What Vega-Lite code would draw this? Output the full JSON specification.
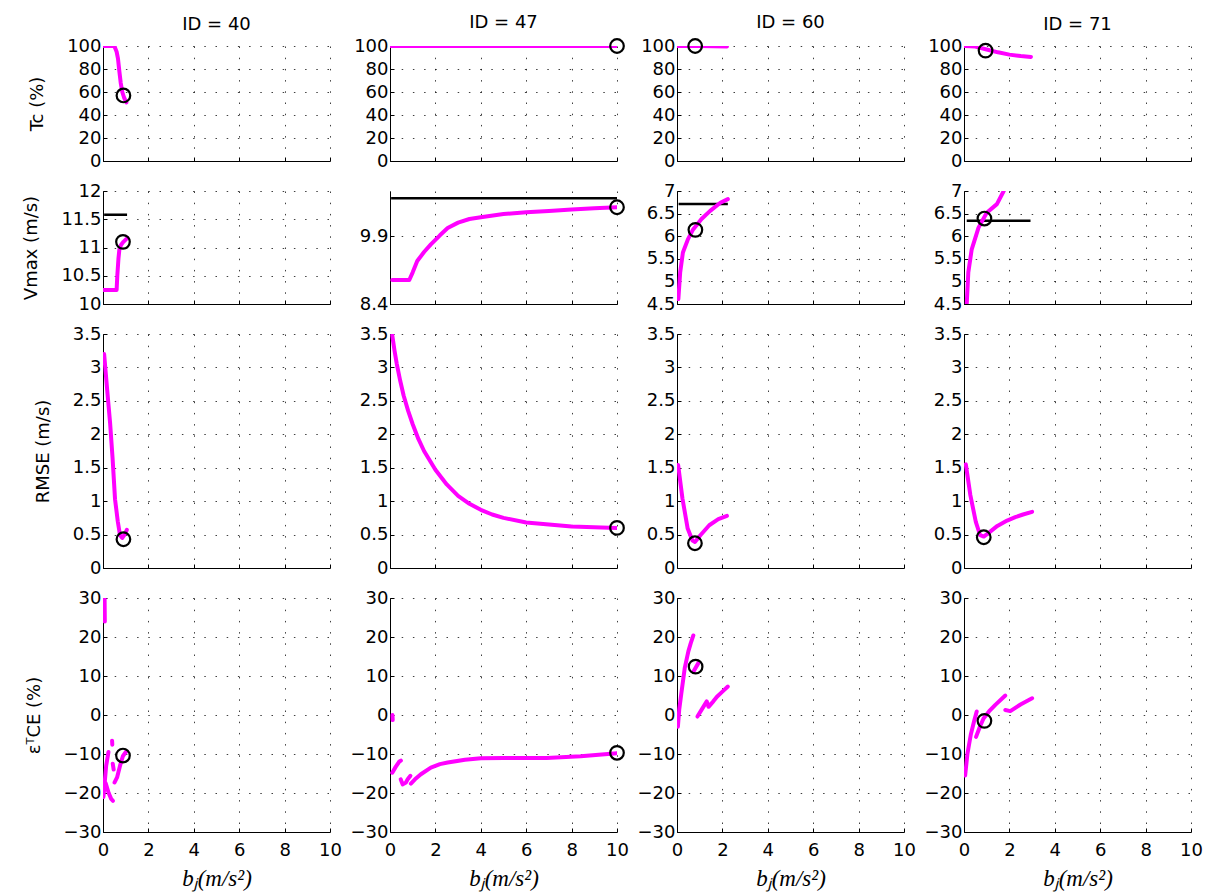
{
"$schema":"https://vega.github.io/schema/vega-lite/v6.json",
"background":"white",
"padding":{"left":22,"top":13,"right":5,"bottom":5},
"datasets":{"d":[
{"k":"c","id":40,"m":"T","s":1,"x":0.05,"y":100},{"k":"c","id":40,"m":"T","s":1,"x":0.5,"y":100},{"k":"c","id":40,"m":"T","s":1,"x":0.6,"y":95},{"k":"c","id":40,"m":"T","s":1,"x":0.66,"y":89},{"k":"c","id":40,"m":"T","s":1,"x":0.72,"y":78},{"k":"c","id":40,"m":"T","s":1,"x":0.78,"y":68},{"k":"c","id":40,"m":"T","s":1,"x":0.85,"y":60},{"k":"c","id":40,"m":"T","s":1,"x":0.93,"y":55},{"k":"c","id":40,"m":"T","s":1,"x":1.03,"y":51},
{"k":"c","id":47,"m":"T","s":1,"x":0.05,"y":100},{"k":"c","id":47,"m":"T","s":1,"x":10,"y":100},
{"k":"c","id":60,"m":"T","s":1,"x":0.05,"y":100},{"k":"c","id":60,"m":"T","s":1,"x":1,"y":100},{"k":"c","id":60,"m":"T","s":1,"x":2.2,"y":99.5},
{"k":"c","id":71,"m":"T","s":1,"x":0.05,"y":100},{"k":"c","id":71,"m":"T","s":1,"x":0.5,"y":99.5},{"k":"c","id":71,"m":"T","s":1,"x":1,"y":97},{"k":"c","id":71,"m":"T","s":1,"x":1.5,"y":94.5},{"k":"c","id":71,"m":"T","s":1,"x":2,"y":92.5},{"k":"c","id":71,"m":"T","s":1,"x":2.5,"y":91.3},{"k":"c","id":71,"m":"T","s":1,"x":2.95,"y":90.5},
{"k":"c","id":40,"m":"V","s":1,"x":0.05,"y":10.25},{"k":"c","id":40,"m":"V","s":1,"x":0.6,"y":10.25},{"k":"c","id":40,"m":"V","s":1,"x":0.63,"y":10.5},{"k":"c","id":40,"m":"V","s":1,"x":0.68,"y":10.8},{"k":"c","id":40,"m":"V","s":1,"x":0.72,"y":10.96},{"k":"c","id":40,"m":"V","s":1,"x":0.8,"y":11.05},{"k":"c","id":40,"m":"V","s":1,"x":0.9,"y":11.1},{"k":"c","id":40,"m":"V","s":1,"x":1.0,"y":11.14},{"k":"c","id":40,"m":"V","s":1,"x":1.08,"y":11.17},
{"k":"c","id":47,"m":"V","s":1,"x":0.1,"y":8.93},{"k":"c","id":47,"m":"V","s":1,"x":0.85,"y":8.93},{"k":"c","id":47,"m":"V","s":1,"x":1.0,"y":9.1},{"k":"c","id":47,"m":"V","s":1,"x":1.2,"y":9.35},{"k":"c","id":47,"m":"V","s":1,"x":1.5,"y":9.55},{"k":"c","id":47,"m":"V","s":1,"x":1.8,"y":9.72},{"k":"c","id":47,"m":"V","s":1,"x":2.2,"y":9.92},{"k":"c","id":47,"m":"V","s":1,"x":2.54,"y":10.08},{"k":"c","id":47,"m":"V","s":1,"x":3,"y":10.2},{"k":"c","id":47,"m":"V","s":1,"x":3.5,"y":10.28},{"k":"c","id":47,"m":"V","s":1,"x":4,"y":10.32},{"k":"c","id":47,"m":"V","s":1,"x":5,"y":10.39},{"k":"c","id":47,"m":"V","s":1,"x":6,"y":10.43},{"k":"c","id":47,"m":"V","s":1,"x":7,"y":10.46},{"k":"c","id":47,"m":"V","s":1,"x":8,"y":10.49},{"k":"c","id":47,"m":"V","s":1,"x":9,"y":10.52},{"k":"c","id":47,"m":"V","s":1,"x":10,"y":10.54},
{"k":"c","id":60,"m":"V","s":1,"x":0.06,"y":4.61},{"k":"c","id":60,"m":"V","s":1,"x":0.14,"y":5.2},{"k":"c","id":60,"m":"V","s":1,"x":0.26,"y":5.64},{"k":"c","id":60,"m":"V","s":1,"x":0.48,"y":5.93},{"k":"c","id":60,"m":"V","s":1,"x":0.71,"y":6.15},{"k":"c","id":60,"m":"V","s":1,"x":1.08,"y":6.38},{"k":"c","id":60,"m":"V","s":1,"x":1.46,"y":6.56},{"k":"c","id":60,"m":"V","s":1,"x":1.91,"y":6.74},{"k":"c","id":60,"m":"V","s":1,"x":2.24,"y":6.82},
{"k":"c","id":71,"m":"V","s":1,"x":0.12,"y":4.5},{"k":"c","id":71,"m":"V","s":1,"x":0.19,"y":5.2},{"k":"c","id":71,"m":"V","s":1,"x":0.34,"y":5.71},{"k":"c","id":71,"m":"V","s":1,"x":0.64,"y":6.19},{"k":"c","id":71,"m":"V","s":1,"x":1.0,"y":6.52},{"k":"c","id":71,"m":"V","s":1,"x":1.45,"y":6.71},{"k":"c","id":71,"m":"V","s":1,"x":1.75,"y":7.0},
{"k":"c","id":40,"m":"R","s":1,"x":0.05,"y":3.2},{"k":"c","id":40,"m":"R","s":1,"x":0.1,"y":3.0},{"k":"c","id":40,"m":"R","s":1,"x":0.2,"y":2.6},{"k":"c","id":40,"m":"R","s":1,"x":0.31,"y":2.18},{"k":"c","id":40,"m":"R","s":1,"x":0.42,"y":1.65},{"k":"c","id":40,"m":"R","s":1,"x":0.53,"y":1.03},{"k":"c","id":40,"m":"R","s":1,"x":0.65,"y":0.7},{"k":"c","id":40,"m":"R","s":1,"x":0.75,"y":0.49},{"k":"c","id":40,"m":"R","s":1,"x":0.85,"y":0.45},{"k":"c","id":40,"m":"R","s":1,"x":0.95,"y":0.5},{"k":"c","id":40,"m":"R","s":1,"x":1.05,"y":0.57},
{"k":"c","id":47,"m":"R","s":1,"x":0.1,"y":3.48},{"k":"c","id":47,"m":"R","s":1,"x":0.2,"y":3.25},{"k":"c","id":47,"m":"R","s":1,"x":0.3,"y":3.05},{"k":"c","id":47,"m":"R","s":1,"x":0.45,"y":2.8},{"k":"c","id":47,"m":"R","s":1,"x":0.6,"y":2.58},{"k":"c","id":47,"m":"R","s":1,"x":0.8,"y":2.35},{"k":"c","id":47,"m":"R","s":1,"x":1.0,"y":2.15},{"k":"c","id":47,"m":"R","s":1,"x":1.25,"y":1.93},{"k":"c","id":47,"m":"R","s":1,"x":1.5,"y":1.75},{"k":"c","id":47,"m":"R","s":1,"x":2,"y":1.47},{"k":"c","id":47,"m":"R","s":1,"x":2.5,"y":1.25},{"k":"c","id":47,"m":"R","s":1,"x":3,"y":1.08},{"k":"c","id":47,"m":"R","s":1,"x":3.5,"y":0.96},{"k":"c","id":47,"m":"R","s":1,"x":4,"y":0.87},{"k":"c","id":47,"m":"R","s":1,"x":4.5,"y":0.8},{"k":"c","id":47,"m":"R","s":1,"x":5,"y":0.75},{"k":"c","id":47,"m":"R","s":1,"x":6,"y":0.68},{"k":"c","id":47,"m":"R","s":1,"x":7,"y":0.65},{"k":"c","id":47,"m":"R","s":1,"x":8,"y":0.62},{"k":"c","id":47,"m":"R","s":1,"x":9,"y":0.61},{"k":"c","id":47,"m":"R","s":1,"x":10,"y":0.6},
{"k":"c","id":60,"m":"R","s":1,"x":0.05,"y":1.54},{"k":"c","id":60,"m":"R","s":1,"x":0.24,"y":1.04},{"k":"c","id":60,"m":"R","s":1,"x":0.47,"y":0.59},{"k":"c","id":60,"m":"R","s":1,"x":0.68,"y":0.41},{"k":"c","id":60,"m":"R","s":1,"x":0.79,"y":0.39},{"k":"c","id":60,"m":"R","s":1,"x":1.03,"y":0.49},{"k":"c","id":60,"m":"R","s":1,"x":1.42,"y":0.64},{"k":"c","id":60,"m":"R","s":1,"x":1.82,"y":0.73},{"k":"c","id":60,"m":"R","s":1,"x":2.2,"y":0.78},
{"k":"c","id":71,"m":"R","s":1,"x":0.08,"y":1.55},{"k":"c","id":71,"m":"R","s":1,"x":0.28,"y":1.09},{"k":"c","id":71,"m":"R","s":1,"x":0.52,"y":0.69},{"k":"c","id":71,"m":"R","s":1,"x":0.71,"y":0.49},{"k":"c","id":71,"m":"R","s":1,"x":0.87,"y":0.47},{"k":"c","id":71,"m":"R","s":1,"x":1.1,"y":0.53},{"k":"c","id":71,"m":"R","s":1,"x":1.47,"y":0.63},{"k":"c","id":71,"m":"R","s":1,"x":1.9,"y":0.71},{"k":"c","id":71,"m":"R","s":1,"x":2.26,"y":0.76},{"k":"c","id":71,"m":"R","s":1,"x":2.6,"y":0.8},{"k":"c","id":71,"m":"R","s":1,"x":3.0,"y":0.84},
{"k":"c","id":40,"m":"E","s":1,"x":0.07,"y":30},{"k":"c","id":40,"m":"E","s":1,"x":0.08,"y":24},
{"k":"c","id":40,"m":"E","s":2,"x":0.02,"y":-21},{"k":"c","id":40,"m":"E","s":2,"x":0.08,"y":-17},{"k":"c","id":40,"m":"E","s":2,"x":0.14,"y":-13},{"k":"c","id":40,"m":"E","s":2,"x":0.24,"y":-9.5},
{"k":"c","id":40,"m":"E","s":3,"x":0.12,"y":-17.5},{"k":"c","id":40,"m":"E","s":3,"x":0.25,"y":-20},{"k":"c","id":40,"m":"E","s":3,"x":0.36,"y":-21.5},{"k":"c","id":40,"m":"E","s":3,"x":0.44,"y":-22},
{"k":"c","id":40,"m":"E","s":4,"x":0.4,"y":-6.6},{"k":"c","id":40,"m":"E","s":4,"x":0.41,"y":-7.6},
{"k":"c","id":40,"m":"E","s":5,"x":0.43,"y":-12.5},{"k":"c","id":40,"m":"E","s":5,"x":0.47,"y":-14},
{"k":"c","id":40,"m":"E","s":6,"x":0.51,"y":-17.3},{"k":"c","id":40,"m":"E","s":6,"x":0.62,"y":-16},{"k":"c","id":40,"m":"E","s":6,"x":0.75,"y":-13},{"k":"c","id":40,"m":"E","s":6,"x":0.88,"y":-10.5},{"k":"c","id":40,"m":"E","s":6,"x":1.03,"y":-9.3},
{"k":"c","id":47,"m":"E","s":1,"x":0.11,"y":0},{"k":"c","id":47,"m":"E","s":1,"x":0.12,"y":-1.3},
{"k":"c","id":47,"m":"E","s":2,"x":0.1,"y":-14.8},{"k":"c","id":47,"m":"E","s":2,"x":0.25,"y":-13.3},{"k":"c","id":47,"m":"E","s":2,"x":0.4,"y":-12},{"k":"c","id":47,"m":"E","s":2,"x":0.48,"y":-11.7},
{"k":"c","id":47,"m":"E","s":3,"x":0.47,"y":-16.5},{"k":"c","id":47,"m":"E","s":3,"x":0.56,"y":-17.8},{"k":"c","id":47,"m":"E","s":3,"x":0.7,"y":-17.3},{"k":"c","id":47,"m":"E","s":3,"x":0.78,"y":-16.5},{"k":"c","id":47,"m":"E","s":3,"x":0.9,"y":-15.6},
{"k":"c","id":47,"m":"E","s":4,"x":0.92,"y":-17.6},{"k":"c","id":47,"m":"E","s":4,"x":1.1,"y":-16.5},{"k":"c","id":47,"m":"E","s":4,"x":1.36,"y":-15.2},{"k":"c","id":47,"m":"E","s":4,"x":1.8,"y":-13.5},{"k":"c","id":47,"m":"E","s":4,"x":2.2,"y":-12.6},{"k":"c","id":47,"m":"E","s":4,"x":2.54,"y":-12.2},{"k":"c","id":47,"m":"E","s":4,"x":3.3,"y":-11.5},{"k":"c","id":47,"m":"E","s":4,"x":4,"y":-11.1},{"k":"c","id":47,"m":"E","s":4,"x":5,"y":-11},{"k":"c","id":47,"m":"E","s":4,"x":6,"y":-11},{"k":"c","id":47,"m":"E","s":4,"x":6.9,"y":-11},{"k":"c","id":47,"m":"E","s":4,"x":8.4,"y":-10.6},{"k":"c","id":47,"m":"E","s":4,"x":9.2,"y":-10.2},{"k":"c","id":47,"m":"E","s":4,"x":10,"y":-9.8},
{"k":"c","id":60,"m":"E","s":1,"x":0.04,"y":-3},{"k":"c","id":60,"m":"E","s":1,"x":0.1,"y":1.5},{"k":"c","id":60,"m":"E","s":1,"x":0.19,"y":5.5},{"k":"c","id":60,"m":"E","s":1,"x":0.34,"y":12},{"k":"c","id":60,"m":"E","s":1,"x":0.5,"y":16.3},{"k":"c","id":60,"m":"E","s":1,"x":0.6,"y":18.3},{"k":"c","id":60,"m":"E","s":1,"x":0.72,"y":20.4},
{"k":"c","id":60,"m":"E","s":2,"x":0.72,"y":11.1},{"k":"c","id":60,"m":"E","s":2,"x":0.94,"y":13.3},
{"k":"c","id":60,"m":"E","s":3,"x":0.9,"y":-0.4},{"k":"c","id":60,"m":"E","s":3,"x":1.1,"y":1.5},{"k":"c","id":60,"m":"E","s":3,"x":1.31,"y":3.5},{"k":"c","id":60,"m":"E","s":3,"x":1.39,"y":2.1},{"k":"c","id":60,"m":"E","s":3,"x":1.6,"y":3.5},{"k":"c","id":60,"m":"E","s":3,"x":1.76,"y":4.7},{"k":"c","id":60,"m":"E","s":3,"x":2.0,"y":6},{"k":"c","id":60,"m":"E","s":3,"x":2.24,"y":7.3},
{"k":"c","id":71,"m":"E","s":1,"x":0.05,"y":-15.5},{"k":"c","id":71,"m":"E","s":1,"x":0.15,"y":-10},{"k":"c","id":71,"m":"E","s":1,"x":0.3,"y":-5},{"k":"c","id":71,"m":"E","s":1,"x":0.45,"y":-1.5},{"k":"c","id":71,"m":"E","s":1,"x":0.56,"y":0.9},
{"k":"c","id":71,"m":"E","s":2,"x":0.53,"y":-5.6},{"k":"c","id":71,"m":"E","s":2,"x":0.7,"y":-3},{"k":"c","id":71,"m":"E","s":2,"x":0.86,"y":-0.9},{"k":"c","id":71,"m":"E","s":2,"x":1.1,"y":0.9},{"k":"c","id":71,"m":"E","s":2,"x":1.38,"y":2.6},{"k":"c","id":71,"m":"E","s":2,"x":1.82,"y":5},
{"k":"c","id":71,"m":"E","s":3,"x":1.82,"y":1.3},{"k":"c","id":71,"m":"E","s":3,"x":2.04,"y":1.0},{"k":"c","id":71,"m":"E","s":3,"x":2.49,"y":2.7},{"k":"c","id":71,"m":"E","s":3,"x":3.0,"y":4.3},
{"k":"o","id":40,"m":"T","x":0.9,"y":57},{"k":"o","id":47,"m":"T","x":10,"y":100},{"k":"o","id":60,"m":"T","x":0.8,"y":100},{"k":"o","id":71,"m":"T","x":0.95,"y":96},
{"k":"o","id":40,"m":"V","x":0.88,"y":11.1},{"k":"o","id":47,"m":"V","x":10,"y":10.54},{"k":"o","id":60,"m":"V","x":0.81,"y":6.14},{"k":"o","id":71,"m":"V","x":0.9,"y":6.39},
{"k":"o","id":40,"m":"R","x":0.9,"y":0.43},{"k":"o","id":47,"m":"R","x":10,"y":0.6},{"k":"o","id":60,"m":"R","x":0.79,"y":0.37},{"k":"o","id":71,"m":"R","x":0.87,"y":0.46},
{"k":"o","id":40,"m":"E","x":0.88,"y":-10.4},{"k":"o","id":47,"m":"E","x":10,"y":-9.7},{"k":"o","id":60,"m":"E","x":0.82,"y":12.4},{"k":"o","id":71,"m":"E","x":0.9,"y":-1.5},
{"k":"r","id":40,"m":"V","x":0.05,"y":11.58},{"k":"r","id":40,"m":"V","x":1.06,"y":11.58},
{"k":"r","id":47,"m":"V","x":0.05,"y":10.74},{"k":"r","id":47,"m":"V","x":10,"y":10.74},
{"k":"r","id":60,"m":"V","x":0.07,"y":6.71},{"k":"r","id":60,"m":"V","x":2.24,"y":6.71},
{"k":"r","id":71,"m":"V","x":0.12,"y":6.34},{"k":"r","id":71,"m":"V","x":2.93,"y":6.34}
]},
"columns":4,
"bounds":"flush",
"align":"each",
"spacing":{"row":30,"column":60},
"resolve":{"scale":{"x":"independent","y":"independent"},"axis":{"x":"independent","y":"independent"}},
"concat":[
{"width":227,"height":115,"title":"ID = 40","encoding":{"x":{"field":"x","type":"quantitative","scale":{"domain":[0,10],"nice":false},"axis":{"values":[0,2,4,6,8,10],"labels":false,"title":null}},"y":{"field":"y","type":"quantitative","scale":{"domain":[0,100],"nice":false,"zero":false},"axis":{"values":[0,20,40,60,80,100],"format":".1~f","title":"Tc (%)"}}},
"layer":[{"data":{"name":"d"},"transform":[{"filter":"datum.k=='c'&&datum.id==40&&datum.m=='T'"}],"mark":{"type":"line","color":"#ff00ff","strokeWidth":4,"strokeCap":"round","strokeJoin":"round","clip":true},"encoding":{"detail":{"field":"s"}}},
{"data":{"name":"d"},"transform":[{"filter":"datum.k=='o'&&datum.id==40&&datum.m=='T'"}],"mark":{"type":"point","shape":"circle","color":"#000","size":185,"strokeWidth":2.2,"opacity":1}}]},
{"width":227,"height":115,"title":"ID = 47","encoding":{"x":{"field":"x","type":"quantitative","scale":{"domain":[0,10],"nice":false},"axis":{"values":[0,2,4,6,8,10],"labels":false,"title":null}},"y":{"field":"y","type":"quantitative","scale":{"domain":[0,100],"nice":false,"zero":false},"axis":{"values":[0,20,40,60,80,100],"format":".1~f","title":null}}},
"layer":[{"data":{"name":"d"},"transform":[{"filter":"datum.k=='c'&&datum.id==47&&datum.m=='T'"}],"mark":{"type":"line","color":"#ff00ff","strokeWidth":4,"strokeCap":"round","strokeJoin":"round","clip":true},"encoding":{"detail":{"field":"s"}}},
{"data":{"name":"d"},"transform":[{"filter":"datum.k=='o'&&datum.id==47&&datum.m=='T'"}],"mark":{"type":"point","shape":"circle","color":"#000","size":185,"strokeWidth":2.2,"opacity":1}}]},
{"width":227,"height":115,"title":"ID = 60","encoding":{"x":{"field":"x","type":"quantitative","scale":{"domain":[0,10],"nice":false},"axis":{"values":[0,2,4,6,8,10],"labels":false,"title":null}},"y":{"field":"y","type":"quantitative","scale":{"domain":[0,100],"nice":false,"zero":false},"axis":{"values":[0,20,40,60,80,100],"format":".1~f","title":null}}},
"layer":[{"data":{"name":"d"},"transform":[{"filter":"datum.k=='c'&&datum.id==60&&datum.m=='T'"}],"mark":{"type":"line","color":"#ff00ff","strokeWidth":4,"strokeCap":"round","strokeJoin":"round","clip":true},"encoding":{"detail":{"field":"s"}}},
{"data":{"name":"d"},"transform":[{"filter":"datum.k=='o'&&datum.id==60&&datum.m=='T'"}],"mark":{"type":"point","shape":"circle","color":"#000","size":185,"strokeWidth":2.2,"opacity":1}}]},
{"width":227,"height":115,"title":"ID = 71","encoding":{"x":{"field":"x","type":"quantitative","scale":{"domain":[0,10],"nice":false},"axis":{"values":[0,2,4,6,8,10],"labels":false,"title":null}},"y":{"field":"y","type":"quantitative","scale":{"domain":[0,100],"nice":false,"zero":false},"axis":{"values":[0,20,40,60,80,100],"format":".1~f","title":null}}},
"layer":[{"data":{"name":"d"},"transform":[{"filter":"datum.k=='c'&&datum.id==71&&datum.m=='T'"}],"mark":{"type":"line","color":"#ff00ff","strokeWidth":4,"strokeCap":"round","strokeJoin":"round","clip":true},"encoding":{"detail":{"field":"s"}}},
{"data":{"name":"d"},"transform":[{"filter":"datum.k=='o'&&datum.id==71&&datum.m=='T'"}],"mark":{"type":"point","shape":"circle","color":"#000","size":185,"strokeWidth":2.2,"opacity":1}}]},

{"width":227,"height":113,"encoding":{"x":{"field":"x","type":"quantitative","scale":{"domain":[0,10],"nice":false},"axis":{"values":[0,2,4,6,8,10],"labels":false,"title":null}},"y":{"field":"y","type":"quantitative","scale":{"domain":[10,12],"nice":false,"zero":false},"axis":{"values":[10,10.5,11,11.5,12],"format":".1~f","title":"Vmax (m/s)"}}},
"layer":[{"data":{"name":"d"},"transform":[{"filter":"datum.k=='r'&&datum.id==40&&datum.m=='V'"}],"mark":{"type":"line","color":"#000","strokeWidth":2.5,"clip":true},"encoding":{}},
{"data":{"name":"d"},"transform":[{"filter":"datum.k=='c'&&datum.id==40&&datum.m=='V'"}],"mark":{"type":"line","color":"#ff00ff","strokeWidth":4,"strokeCap":"round","strokeJoin":"round","clip":true},"encoding":{"detail":{"field":"s"}}},
{"data":{"name":"d"},"transform":[{"filter":"datum.k=='o'&&datum.id==40&&datum.m=='V'"}],"mark":{"type":"point","shape":"circle","color":"#000","size":185,"strokeWidth":2.2,"opacity":1}}]},
{"width":227,"height":113,"encoding":{"x":{"field":"x","type":"quantitative","scale":{"domain":[0,10],"nice":false},"axis":{"values":[0,2,4,6,8,10],"labels":false,"title":null}},"y":{"field":"y","type":"quantitative","scale":{"domain":[8.4,10.9],"nice":false,"zero":false},"axis":{"values":[8.4,9.9],"format":".1f","title":null}}},
"layer":[{"data":{"name":"d"},"transform":[{"filter":"datum.k=='r'&&datum.id==47&&datum.m=='V'"}],"mark":{"type":"line","color":"#000","strokeWidth":2.5,"clip":true},"encoding":{}},
{"data":{"name":"d"},"transform":[{"filter":"datum.k=='c'&&datum.id==47&&datum.m=='V'"}],"mark":{"type":"line","color":"#ff00ff","strokeWidth":4,"strokeCap":"round","strokeJoin":"round","clip":true},"encoding":{"detail":{"field":"s"}}},
{"data":{"name":"d"},"transform":[{"filter":"datum.k=='o'&&datum.id==47&&datum.m=='V'"}],"mark":{"type":"point","shape":"circle","color":"#000","size":185,"strokeWidth":2.2,"opacity":1}}]},
{"width":227,"height":113,"encoding":{"x":{"field":"x","type":"quantitative","scale":{"domain":[0,10],"nice":false},"axis":{"values":[0,2,4,6,8,10],"labels":false,"title":null}},"y":{"field":"y","type":"quantitative","scale":{"domain":[4.5,7],"nice":false,"zero":false},"axis":{"values":[4.5,5,5.5,6,6.5,7],"format":".1~f","title":null}}},
"layer":[{"data":{"name":"d"},"transform":[{"filter":"datum.k=='r'&&datum.id==60&&datum.m=='V'"}],"mark":{"type":"line","color":"#000","strokeWidth":2.5,"clip":true},"encoding":{}},
{"data":{"name":"d"},"transform":[{"filter":"datum.k=='c'&&datum.id==60&&datum.m=='V'"}],"mark":{"type":"line","color":"#ff00ff","strokeWidth":4,"strokeCap":"round","strokeJoin":"round","clip":true},"encoding":{"detail":{"field":"s"}}},
{"data":{"name":"d"},"transform":[{"filter":"datum.k=='o'&&datum.id==60&&datum.m=='V'"}],"mark":{"type":"point","shape":"circle","color":"#000","size":185,"strokeWidth":2.2,"opacity":1}}]},
{"width":227,"height":113,"encoding":{"x":{"field":"x","type":"quantitative","scale":{"domain":[0,10],"nice":false},"axis":{"values":[0,2,4,6,8,10],"labels":false,"title":null}},"y":{"field":"y","type":"quantitative","scale":{"domain":[4.5,7],"nice":false,"zero":false},"axis":{"values":[4.5,5,5.5,6,6.5,7],"format":".1~f","title":null}}},
"layer":[{"data":{"name":"d"},"transform":[{"filter":"datum.k=='r'&&datum.id==71&&datum.m=='V'"}],"mark":{"type":"line","color":"#000","strokeWidth":2.5,"clip":true},"encoding":{}},
{"data":{"name":"d"},"transform":[{"filter":"datum.k=='c'&&datum.id==71&&datum.m=='V'"}],"mark":{"type":"line","color":"#ff00ff","strokeWidth":4,"strokeCap":"round","strokeJoin":"round","clip":true},"encoding":{"detail":{"field":"s"}}},
{"data":{"name":"d"},"transform":[{"filter":"datum.k=='o'&&datum.id==71&&datum.m=='V'"}],"mark":{"type":"point","shape":"circle","color":"#000","size":185,"strokeWidth":2.2,"opacity":1}}]},

{"width":227,"height":234,"encoding":{"x":{"field":"x","type":"quantitative","scale":{"domain":[0,10],"nice":false},"axis":{"values":[0,2,4,6,8,10],"labels":false,"title":null}},"y":{"field":"y","type":"quantitative","scale":{"domain":[0,3.5],"nice":false,"zero":false},"axis":{"values":[0,0.5,1,1.5,2,2.5,3,3.5],"format":".1~f","title":"RMSE (m/s)"}}},
"layer":[{"data":{"name":"d"},"transform":[{"filter":"datum.k=='c'&&datum.id==40&&datum.m=='R'"}],"mark":{"type":"line","color":"#ff00ff","strokeWidth":4,"strokeCap":"round","strokeJoin":"round","clip":true},"encoding":{"detail":{"field":"s"}}},
{"data":{"name":"d"},"transform":[{"filter":"datum.k=='o'&&datum.id==40&&datum.m=='R'"}],"mark":{"type":"point","shape":"circle","color":"#000","size":185,"strokeWidth":2.2,"opacity":1}}]},
{"width":227,"height":234,"encoding":{"x":{"field":"x","type":"quantitative","scale":{"domain":[0,10],"nice":false},"axis":{"values":[0,2,4,6,8,10],"labels":false,"title":null}},"y":{"field":"y","type":"quantitative","scale":{"domain":[0,3.5],"nice":false,"zero":false},"axis":{"values":[0,0.5,1,1.5,2,2.5,3,3.5],"format":".1~f","title":null}}},
"layer":[{"data":{"name":"d"},"transform":[{"filter":"datum.k=='c'&&datum.id==47&&datum.m=='R'"}],"mark":{"type":"line","color":"#ff00ff","strokeWidth":4,"strokeCap":"round","strokeJoin":"round","clip":true},"encoding":{"detail":{"field":"s"}}},
{"data":{"name":"d"},"transform":[{"filter":"datum.k=='o'&&datum.id==47&&datum.m=='R'"}],"mark":{"type":"point","shape":"circle","color":"#000","size":185,"strokeWidth":2.2,"opacity":1}}]},
{"width":227,"height":234,"encoding":{"x":{"field":"x","type":"quantitative","scale":{"domain":[0,10],"nice":false},"axis":{"values":[0,2,4,6,8,10],"labels":false,"title":null}},"y":{"field":"y","type":"quantitative","scale":{"domain":[0,3.5],"nice":false,"zero":false},"axis":{"values":[0,0.5,1,1.5,2,2.5,3,3.5],"format":".1~f","title":null}}},
"layer":[{"data":{"name":"d"},"transform":[{"filter":"datum.k=='c'&&datum.id==60&&datum.m=='R'"}],"mark":{"type":"line","color":"#ff00ff","strokeWidth":4,"strokeCap":"round","strokeJoin":"round","clip":true},"encoding":{"detail":{"field":"s"}}},
{"data":{"name":"d"},"transform":[{"filter":"datum.k=='o'&&datum.id==60&&datum.m=='R'"}],"mark":{"type":"point","shape":"circle","color":"#000","size":185,"strokeWidth":2.2,"opacity":1}}]},
{"width":227,"height":234,"encoding":{"x":{"field":"x","type":"quantitative","scale":{"domain":[0,10],"nice":false},"axis":{"values":[0,2,4,6,8,10],"labels":false,"title":null}},"y":{"field":"y","type":"quantitative","scale":{"domain":[0,3.5],"nice":false,"zero":false},"axis":{"values":[0,0.5,1,1.5,2,2.5,3,3.5],"format":".1~f","title":null}}},
"layer":[{"data":{"name":"d"},"transform":[{"filter":"datum.k=='c'&&datum.id==71&&datum.m=='R'"}],"mark":{"type":"line","color":"#ff00ff","strokeWidth":4,"strokeCap":"round","strokeJoin":"round","clip":true},"encoding":{"detail":{"field":"s"}}},
{"data":{"name":"d"},"transform":[{"filter":"datum.k=='o'&&datum.id==71&&datum.m=='R'"}],"mark":{"type":"point","shape":"circle","color":"#000","size":185,"strokeWidth":2.2,"opacity":1}}]},

{"width":227,"height":234,"encoding":{"x":{"field":"x","type":"quantitative","scale":{"domain":[0,10],"nice":false},"axis":{"values":[0,2,4,6,8,10],"title":"bⱼ(m/s²)"}},"y":{"field":"y","type":"quantitative","scale":{"domain":[-30,30],"nice":false,"zero":false},"axis":{"values":[-30,-20,-10,0,10,20,30],"format":".1~f","title":"εᵀCE (%)"}}},
"layer":[{"data":{"name":"d"},"transform":[{"filter":"datum.k=='c'&&datum.id==40&&datum.m=='E'"}],"mark":{"type":"line","color":"#ff00ff","strokeWidth":4,"strokeCap":"round","strokeJoin":"round","clip":true},"encoding":{"detail":{"field":"s"}}},
{"data":{"name":"d"},"transform":[{"filter":"datum.k=='o'&&datum.id==40&&datum.m=='E'"}],"mark":{"type":"point","shape":"circle","color":"#000","size":185,"strokeWidth":2.2,"opacity":1}}]},
{"width":227,"height":234,"encoding":{"x":{"field":"x","type":"quantitative","scale":{"domain":[0,10],"nice":false},"axis":{"values":[0,2,4,6,8,10],"title":"bⱼ(m/s²)"}},"y":{"field":"y","type":"quantitative","scale":{"domain":[-30,30],"nice":false,"zero":false},"axis":{"values":[-30,-20,-10,0,10,20,30],"format":".1~f","title":null}}},
"layer":[{"data":{"name":"d"},"transform":[{"filter":"datum.k=='c'&&datum.id==47&&datum.m=='E'"}],"mark":{"type":"line","color":"#ff00ff","strokeWidth":4,"strokeCap":"round","strokeJoin":"round","clip":true},"encoding":{"detail":{"field":"s"}}},
{"data":{"name":"d"},"transform":[{"filter":"datum.k=='o'&&datum.id==47&&datum.m=='E'"}],"mark":{"type":"point","shape":"circle","color":"#000","size":185,"strokeWidth":2.2,"opacity":1}}]},
{"width":227,"height":234,"encoding":{"x":{"field":"x","type":"quantitative","scale":{"domain":[0,10],"nice":false},"axis":{"values":[0,2,4,6,8,10],"title":"bⱼ(m/s²)"}},"y":{"field":"y","type":"quantitative","scale":{"domain":[-30,30],"nice":false,"zero":false},"axis":{"values":[-30,-20,-10,0,10,20,30],"format":".1~f","title":null}}},
"layer":[{"data":{"name":"d"},"transform":[{"filter":"datum.k=='c'&&datum.id==60&&datum.m=='E'"}],"mark":{"type":"line","color":"#ff00ff","strokeWidth":4,"strokeCap":"round","strokeJoin":"round","clip":true},"encoding":{"detail":{"field":"s"}}},
{"data":{"name":"d"},"transform":[{"filter":"datum.k=='o'&&datum.id==60&&datum.m=='E'"}],"mark":{"type":"point","shape":"circle","color":"#000","size":185,"strokeWidth":2.2,"opacity":1}}]},
{"width":227,"height":234,"encoding":{"x":{"field":"x","type":"quantitative","scale":{"domain":[0,10],"nice":false},"axis":{"values":[0,2,4,6,8,10],"title":"bⱼ(m/s²)"}},"y":{"field":"y","type":"quantitative","scale":{"domain":[-30,30],"nice":false,"zero":false},"axis":{"values":[-30,-20,-10,0,10,20,30],"format":".1~f","title":null}}},
"layer":[{"data":{"name":"d"},"transform":[{"filter":"datum.k=='c'&&datum.id==71&&datum.m=='E'"}],"mark":{"type":"line","color":"#ff00ff","strokeWidth":4,"strokeCap":"round","strokeJoin":"round","clip":true},"encoding":{"detail":{"field":"s"}}},
{"data":{"name":"d"},"transform":[{"filter":"datum.k=='o'&&datum.id==71&&datum.m=='E'"}],"mark":{"type":"point","shape":"circle","color":"#000","size":185,"strokeWidth":2.2,"opacity":1}}]}
],
"config":{
"font":"DejaVu Sans",
"view":{"stroke":null},
"axis":{"domainColor":"#000","domainWidth":1,"tickColor":"#000","tickSize":-4,"tickWidth":1,"labelFont":"DejaVu Sans","labelFontSize":18,"labelColor":"#000","labelPadding":6,"labelOverlap":false,"labelFlush":false,"labelBound":false,"grid":true,"gridColor":"#000","gridDash":[1.5,9.7],"gridOpacity":0.75,"gridWidth":1,"titleFont":"DejaVu Sans","titleFontSize":18,"titleFontWeight":"normal","titleColor":"#000","titlePadding":20},
"axisX":{"labelPadding":13,"titleFont":"Liberation Serif","titleFontStyle":"italic","titleFontSize":23,"titlePadding":8},
"title":{"font":"DejaVu Sans","fontSize":18,"fontWeight":"normal","color":"#000","offset":3}
}
}
